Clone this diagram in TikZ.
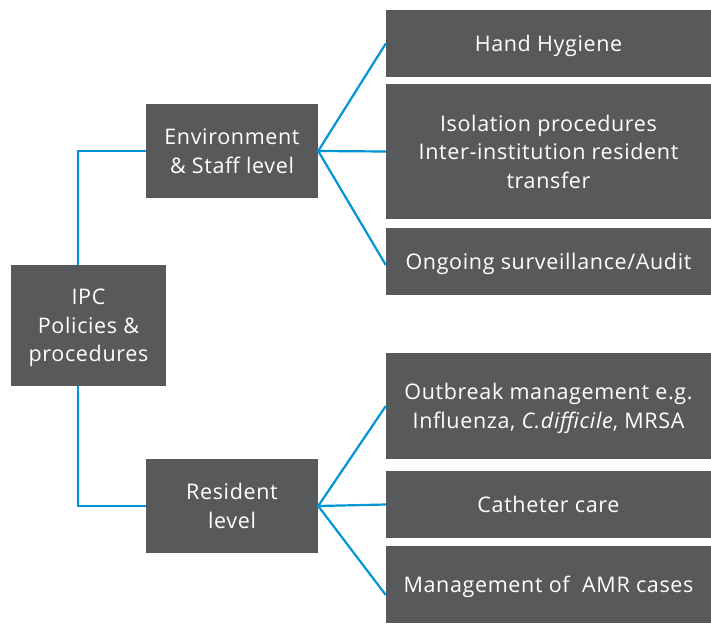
\documentclass[tikz,border=0pt]{standalone}
\usepackage{fontspec}
\setmainfont[LetterSpace=3]{Open Sans}
\definecolor{boxgray}{HTML}{58595B}
\definecolor{linkblue}{HTML}{0096D6}
\begin{document}
\begin{tikzpicture} [x = 1pt, y = -1pt,
  box/.style = {fill = boxgray, text = white, align = center, inner sep = 0pt,
    text depth = 0pt, font = \fontsize{21.5}{28.5}\selectfont},
  link/.style = {linkblue, line width = 2.2pt}]
\useasboundingbox (0,0) rectangle (711,624);
% left column
\node [box, minimum width = 155pt, minimum height = 121pt] (ipc) at (88.5,325.5) {IPC\\Policies \&\\procedures};
\node [box, minimum width = 172pt, minimum height = 94pt] (env) at (232,151) {Environment\\\& Staff level};
\node [box, minimum width = 172pt, minimum height = 94pt] (res) at (232,506) {Resident\\level};
% right column
\node [box, minimum width = 325pt, minimum height = 67pt] (hand) at (548.5,43.5) {Hand Hygiene};
\node [box, minimum width = 325pt, minimum height = 135pt] (iso) at (548.5,151.5) {Isolation procedures\\Inter-institution resident\\transfer};
\node [box, minimum width = 325pt, minimum height = 67pt] (ongo) at (548.5,261.5) {Ongoing surveillance/Audit};
\node [box, minimum width = 325pt, minimum height = 106pt] (outb) at (548.5,406) {Outbreak management e.g.\\Influenza, \textit{C.difficile}, MRSA};
\node [box, minimum width = 325pt, minimum height = 67pt] (cath) at (548.5,504.5) {Catheter care};
\node [box, minimum width = 325pt, minimum height = 77pt] (amr) at (548.5,584.5) {Management of~ AMR cases};
% connectors
\draw [link] ([xshift = 67pt]ipc.north west) |- (env.west);
\draw [link] ([xshift = 67pt]ipc.south west) |- (res.west);
\draw [link] (hand.west) -- (env.east) -- (iso.west);
\draw [link] (env.east) -- ([yshift = -3.5pt]ongo.west);
\draw [link] (outb.west) -- (res.east) -- (cath.west);
\draw [link] (res.east) -- ([yshift = -10.5pt]amr.west);
\end{tikzpicture}
\end{document}
